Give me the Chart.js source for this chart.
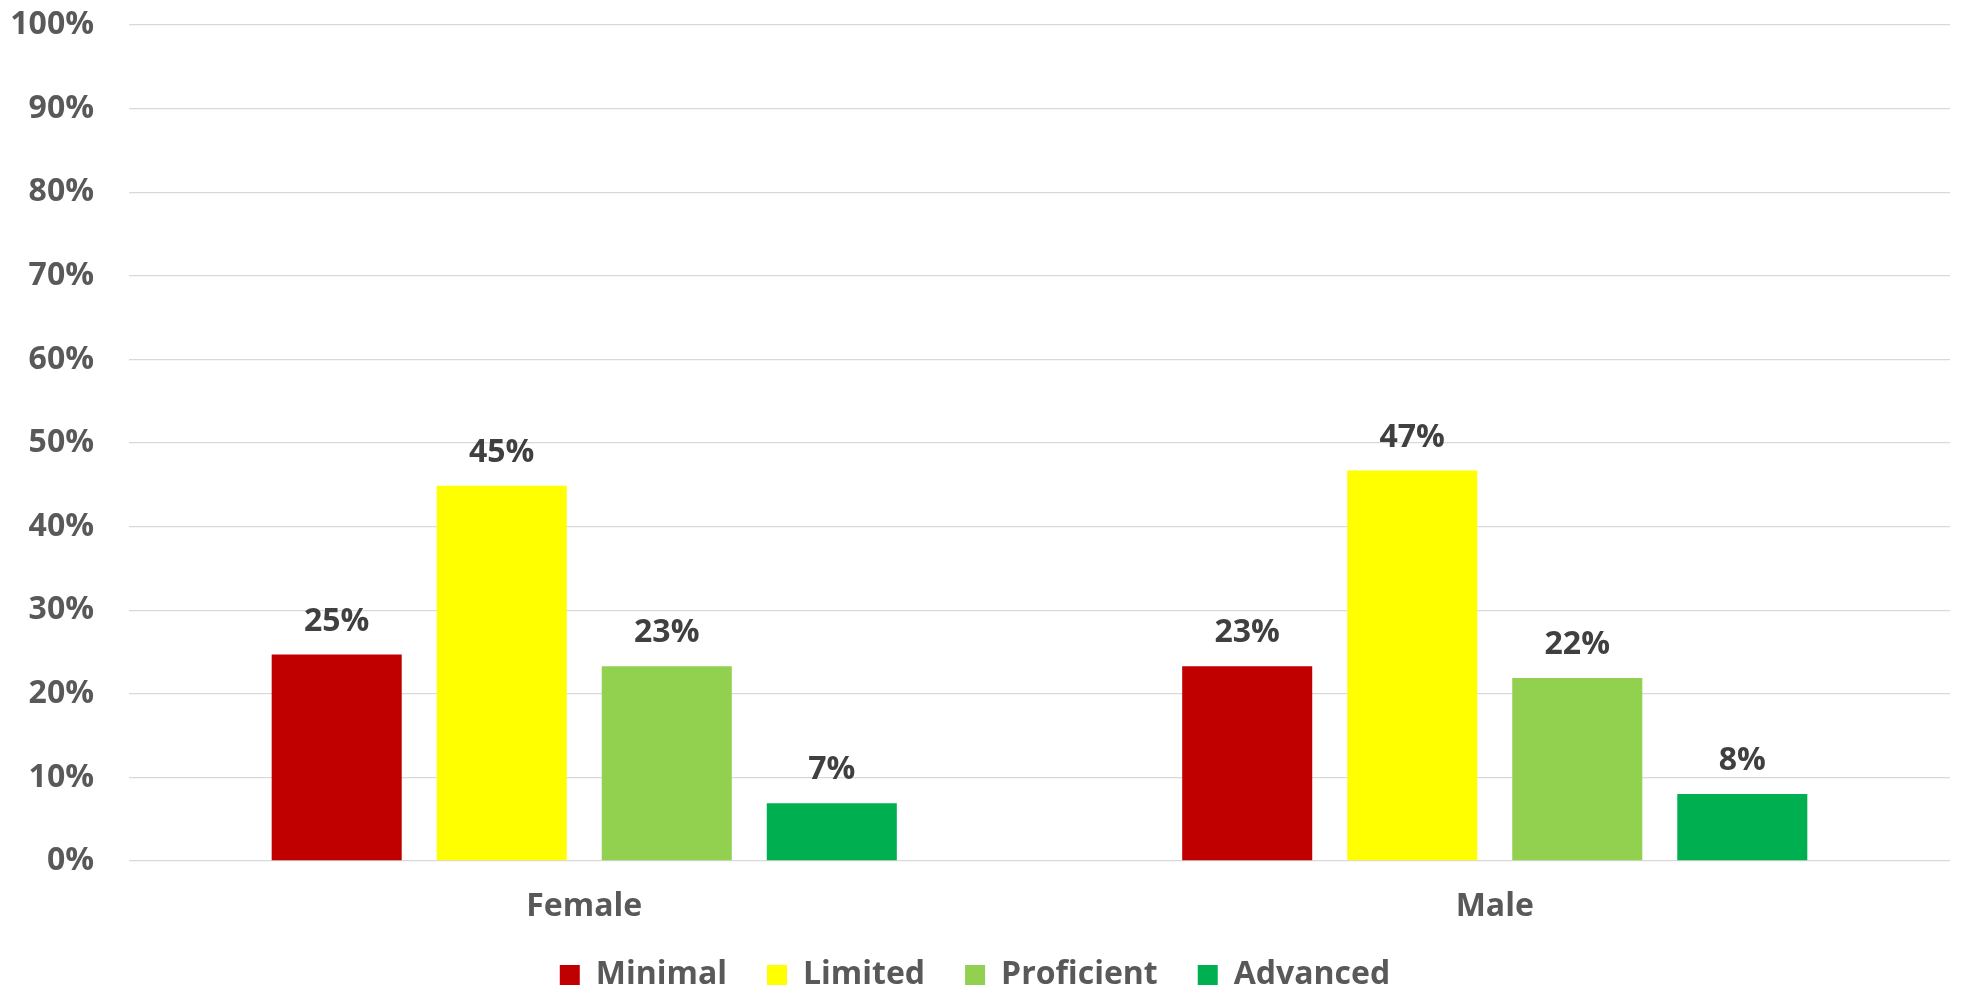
<!DOCTYPE html>
<html>
<head>
<meta charset="utf-8">
<script src="https://cdn.jsdelivr.net/npm/chart.js@4.4.1/dist/chart.umd.min.js"></script>
<style>
  html, body { margin: 0; padding: 0; background: #ffffff; }
  #wrap { width: 1965px; height: 993px; position: relative; }
</style>
</head>
<body>
<div id="wrap"><canvas id="c"></canvas></div>
<script>
const categories = ['Female', 'Male'];
const seriesNames = ['Minimal', 'Limited', 'Proficient', 'Advanced'];
const minimalValues = [24.7, 23.3];
const limitedValues = [44.9, 46.7];
const proficientValues = [23.3, 21.9];
const advancedValues = [6.9, 8.0];
const yTickValues = [0, 10, 20, 30, 40, 50, 60, 70, 80, 90, 100];

const seriesValues = [minimalValues, limitedValues, proficientValues, advancedValues];
const seriesColors = ['#C00000', '#FFFF00', '#92D050', '#00B050'];
const FONT = "'Open Sans', sans-serif";

const valueLabels = {
  id: 'valueLabels',
  afterDatasetsDraw(chart) {
    const ctx = chart.ctx;
    ctx.save();
    ctx.font = "bold 32px " + FONT;
    ctx.fillStyle = '#404040';
    ctx.textAlign = 'center';
    ctx.textBaseline = 'alphabetic';
    chart.data.datasets.forEach((ds, di) => {
      const meta = chart.getDatasetMeta(di);
      meta.data.forEach((bar, i) => {
        const v = ds.data[i];
        ctx.fillText(Math.round(v) + '%', bar.x, bar.y - 24);
      });
    });
    ctx.restore();
  }
};

new Chart(document.getElementById('c'), {
  type: 'bar',
  data: {
    labels: categories,
    datasets: seriesNames.map((name, i) => ({
      label: name,
      data: seriesValues[i],
      backgroundColor: seriesColors[i],
      borderWidth: 0,
      barPercentage: 0.788,
      categoryPercentage: 0.725
    }))
  },
  options: {
    responsive: true,
    maintainAspectRatio: false,
    animation: false,
    layout: { padding: { left: 0, right: 15, top: 25, bottom: -8 } },
    plugins: {
      legend: {
        position: 'bottom',
        labels: {
          boxWidth: 20,
          boxHeight: 20,
          padding: 40,
          color: '#595959',
          font: { family: FONT, size: 32, weight: 'bold' }
        }
      },
      tooltip: { enabled: false }
    },
    scales: {
      x: {
        afterFit(axis) { axis.height = 58; },
        grid: { display: false, drawTicks: false },
        border: { display: false },
        ticks: {
          color: '#595959',
          padding: 36,
          font: { family: FONT, size: 32, weight: 'bold', lineHeight: 0.6 }
        }
      },
      y: {
        min: 0,
        max: 100,
        afterBuildTicks(axis) { axis.ticks = yTickValues.map(v => ({ value: v })); },
        afterFit(axis) { axis.width = 129; axis.paddingTop = 0; axis.paddingBottom = 0; },
        grid: { color: '#d9d9d9', lineWidth: 1.3, drawTicks: false },
        border: { display: false },
        ticks: {
          color: '#595959',
          padding: 35,
          font: { family: FONT, size: 32, weight: 'bold' },
          callback: v => v + '%'
        }
      }
    }
  },
  plugins: [valueLabels]
});
</script>
</body>
</html>
